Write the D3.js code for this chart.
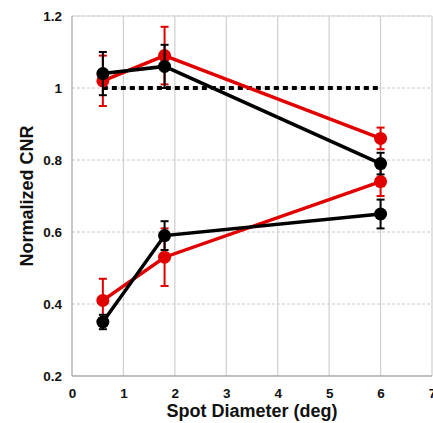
<!DOCTYPE html>
<html>
<head>
<meta charset="utf-8">
<script src="https://cdn.jsdelivr.net/npm/d3@7"></script>
<style>
  body { margin: 0; background: #fff; }
  text { font-family: "Liberation Sans", Arial, sans-serif; font-weight: bold; }
</style>
</head>
<body>
<div id="chart"></div>
<script>
const spot = [0.6, 1.8, 6];

const redUpper = [1.02, 1.09, 0.86];
const redUpperErr = [0.07, 0.08, 0.03];
const blackUpper = [1.04, 1.06, 0.79];
const blackUpperErr = [0.06, 0.06, 0.03];

const redLower = [0.41, 0.53, 0.74];
const redLowerErr = [0.06, 0.08, 0.04];
const blackLower = [0.35, 0.59, 0.65];
const blackLowerErr = [0.02, 0.04, 0.04];

const refLine = [{ x: 0.6, y: 1 }, { x: 6, y: 1 }];

const xTicks = [0, 1, 2, 3, 4, 5, 6, 7];
const yTicks = [0.2, 0.4, 0.6, 0.8, 1, 1.2];

const margin = { top: 16, right: 1, bottom: 47, left: 72 },
      width = 433 - margin.left - margin.right,
      height = 423 - margin.top - margin.bottom;

const svg = d3.select("#chart")
  .append("svg")
  .attr("width", 433)
  .attr("height", 423);

const g = svg.append("g")
  .attr("transform", `translate(${margin.left},${margin.top})`);

const x = d3.scaleLinear().domain([0, 7]).range([0, width]);
const y = d3.scaleLinear().domain([0.2, 1.2]).range([height, 0]);

// grid
g.selectAll(".vgrid")
  .data(xTicks.slice(1))
  .enter()
  .append("line")
  .attr("x1", d => x(d)).attr("x2", d => x(d))
  .attr("y1", 0).attr("y2", height)
  .attr("stroke", "#cfcfcf")
  .attr("stroke-width", 1.2);

g.selectAll(".hgrid")
  .data(yTicks.slice(1))
  .enter()
  .append("line")
  .attr("x1", 0).attr("x2", width)
  .attr("y1", d => y(d)).attr("y2", d => y(d))
  .attr("stroke", "#c8c8c8")
  .attr("stroke-width", 1)
  .attr("stroke-dasharray", "3,2");

// frame
g.append("line").attr("x1", 0).attr("x2", width).attr("y1", 0).attr("y2", 0)
  .attr("stroke", "#d8d8d8").attr("stroke-width", 1);
g.append("line").attr("x1", 0).attr("x2", 0).attr("y1", 0).attr("y2", height)
  .attr("stroke", "#aaa").attr("stroke-width", 1.3);
g.append("line").attr("x1", 0).attr("x2", width).attr("y1", height).attr("y2", height)
  .attr("stroke", "#aaa").attr("stroke-width", 1.3);

// axes (labels only)
const xAxis = g.append("g")
  .attr("transform", `translate(0,${height})`)
  .call(d3.axisBottom(x).tickValues(xTicks).tickSize(0).tickPadding(12).tickFormat(d3.format("d")));
const yAxis = g.append("g")
  .call(d3.axisLeft(y).tickValues(yTicks).tickSize(0).tickPadding(10).tickFormat(d => d === 1 ? "1" : d3.format(".1f")(d)));
[xAxis, yAxis].forEach(a => {
  a.select(".domain").remove();
  a.selectAll("text")
    .style("font-family", "'Liberation Sans', Arial, sans-serif")
    .style("font-weight", "bold")
    .style("font-size", "13.5px")
    .attr("fill", "#111");
});

// reference line
g.append("path")
  .datum(refLine)
  .attr("fill", "none")
  .attr("stroke", "#000")
  .attr("stroke-width", 4)
  .attr("stroke-dasharray", "5,4")
  .attr("d", d3.line().x(d => x(d.x)).y(d => y(d.y)));

function drawSeries(vals, errs, color) {
  const pts = spot.map((s, i) => ({ x: s, y: vals[i], e: errs[i] }));
  g.append("path")
    .datum(pts)
    .attr("fill", "none")
    .attr("stroke", color)
    .attr("stroke-width", 3.5)
    .attr("d", d3.line().x(d => x(d.x)).y(d => y(d.y)));

  const eb = g.append("g");
  pts.forEach(d => {
    eb.append("line")
      .attr("x1", x(d.x)).attr("x2", x(d.x))
      .attr("y1", y(d.y - d.e)).attr("y2", y(d.y + d.e))
      .attr("stroke", color).attr("stroke-width", 2);
    [d.y - d.e, d.y + d.e].forEach(v => {
      eb.append("line")
        .attr("x1", x(d.x) - 4).attr("x2", x(d.x) + 4)
        .attr("y1", y(v)).attr("y2", y(v))
        .attr("stroke", color).attr("stroke-width", 2);
    });
  });

  g.append("g").selectAll("circle")
    .data(pts)
    .enter()
    .append("circle")
    .attr("cx", d => x(d.x))
    .attr("cy", d => y(d.y))
    .attr("r", 6.5)
    .attr("fill", color);
}

drawSeries(redUpper, redUpperErr, "#e00000");
drawSeries(redLower, redLowerErr, "#e00000");
drawSeries(blackUpper, blackUpperErr, "#000");
drawSeries(blackLower, blackLowerErr, "#000");

// titles
svg.append("text")
  .attr("x", margin.left + width / 2)
  .attr("y", 417)
  .attr("text-anchor", "middle")
  .style("font-size", "18px")
  .attr("fill", "#111")
  .text("Spot Diameter (deg)");

svg.append("text")
  .attr("transform", `translate(33,${margin.top + height / 2}) rotate(-90)`)
  .attr("text-anchor", "middle")
  .style("font-size", "18px")
  .attr("fill", "#111")
  .text("Normalized CNR");
</script>
</body>
</html>
